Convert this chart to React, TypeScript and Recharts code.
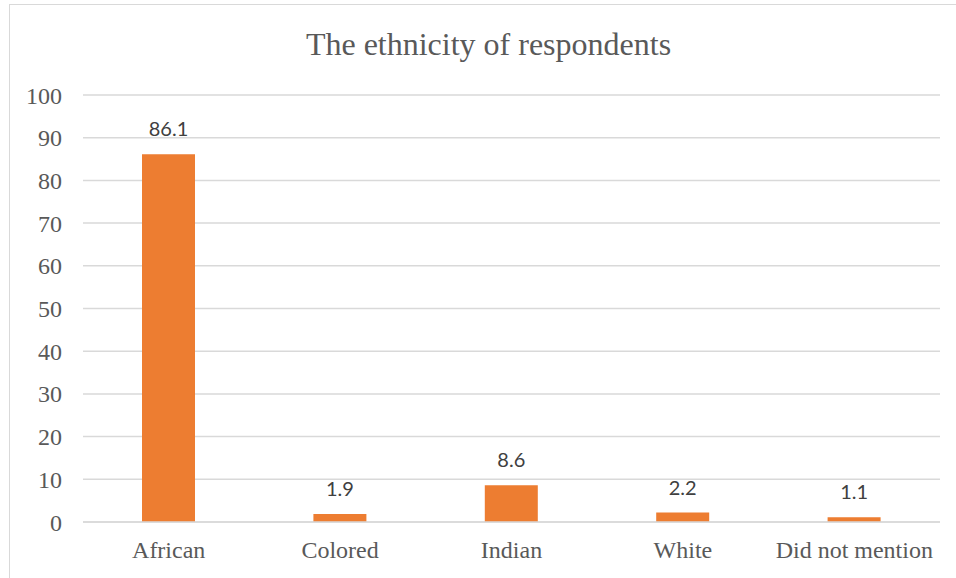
import React from "react";
import { BarChart, Bar, XAxis, YAxis, CartesianGrid, LabelList } from "recharts";

const categories = ["African", "Colored", "Indian", "White", "Did not mention"];
const percentages = [86.1, 1.9, 8.6, 2.2, 1.1];
const yTicks = [0, 10, 20, 30, 40, 50, 60, 70, 80, 90, 100];

const data = categories.map((name, i) => ({ name, value: percentages[i] }));

const SERIF = "Liberation Serif";

export default function App() {
  return (
    <div
      style={{
        position: "absolute",
        left: 0,
        top: 0,
        width: 956,
        height: 578,
        overflow: "hidden",
        background: "#fff",
      }}
    >
      {/* chart frame */}
      <div
        style={{
          position: "absolute",
          left: 9,
          top: 4,
          width: 980,
          height: 620,
          border: "1.5px solid #d9d9d9",
        }}
      />
      <div
        style={{
          position: "absolute",
          left: 0,
          top: 24,
          width: 977,
          textAlign: "center",
          fontFamily: SERIF,
          fontSize: 32,
          color: "#595959",
          lineHeight: "40px",
        }}
      >
        The ethnicity of respondents
      </div>
      <BarChart
        width={956}
        height={578}
        data={data}
        margin={{ top: 95, right: 16, bottom: 16, left: 23 }}
        style={{ position: "absolute", left: 0, top: 0 }}
      >
        <CartesianGrid vertical={false} stroke="#d9d9d9" strokeWidth={1.5} />
        <XAxis
          dataKey="name"
          axisLine={{ stroke: "#d9d9d9", strokeWidth: 1.5 }}
          tickLine={false}
          tickSize={6}
          tickMargin={13}
          height={40}
          tick={{ fontFamily: SERIF, fontSize: 24, fill: "#595959" }}
          interval={0}
        />
        <YAxis
          domain={[0, 100]}
          ticks={yTicks}
          axisLine={false}
          tickLine={false}
          tickSize={6}
          tickMargin={15}
          width={60}
          tick={{ fontFamily: SERIF, fontSize: 24, fill: "#595959" }}
        />
        <Bar dataKey="value" fill="#ED7D31" barSize={53} isAnimationActive={false}>
          <LabelList
            dataKey="value"
            position="top"
            offset={18}
            style={{ fontFamily: "Lato", fontSize: 20, fill: "#404040" }}
          />
        </Bar>
      </BarChart>
    </div>
  );
}
